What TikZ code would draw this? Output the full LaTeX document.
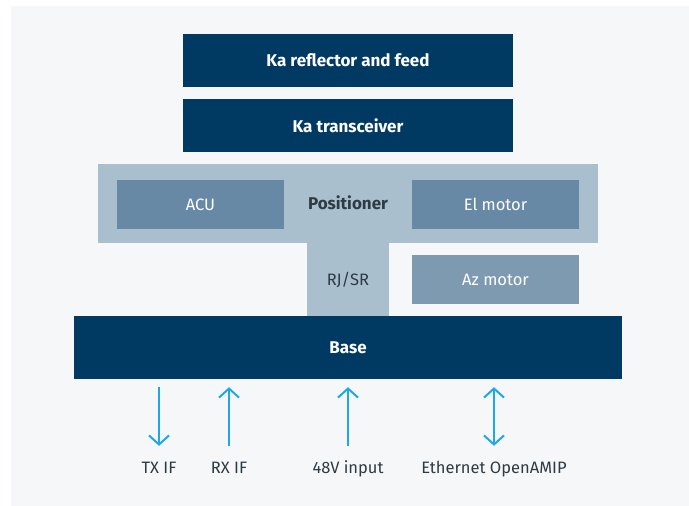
\documentclass[tikz,border=0pt]{standalone}
\usepackage{fontspec}
\setmainfont{Fira Sans}
\usetikzlibrary{arrows.meta}

\definecolor{navyblue}{HTML}{003A63}
\definecolor{posgrey}{HTML}{AABFCE}
\definecolor{unitblue}{HTML}{6889A6}
\definecolor{azblue}{HTML}{7E9AB0}
\definecolor{pagegrey}{HTML}{F5F7F9}
\definecolor{sigcyan}{HTML}{1EA8E6}
\definecolor{inkgrey}{HTML}{2D3B45}

\tikzset{
  navybox/.style={fill=navyblue, text=white, font=\fontsize{17}{19}\selectfont\bfseries, inner sep=0pt},
  posbox/.style={fill=posgrey, text=inkgrey, inner sep=0pt},
  unitbox/.style={fill=unitblue, text=white, font=\fontsize{16.5}{18}\selectfont, inner sep=0pt,
    minimum width=167pt, minimum height=49pt},
  iolabel/.style={text=inkgrey, font=\fontsize{16.5}{18}\selectfont, anchor=base, inner sep=2pt,
    text height=11pt, text depth=3pt},
  sigline/.style={draw=sigcyan, line width=2pt, shorten <=8pt, shorten >=14pt,
    arrows={-Straight Barb[length=9pt,width=20pt,line width=2pt]}},
}

\begin{document}
\begin{tikzpicture}[x=1pt, y=-1pt]
  \useasboundingbox (0,0) rectangle (689,506);
  \fill[pagegrey] (11,6) rectangle (689,506);

  % upper blocks
  \node[navybox, minimum width=330pt, minimum height=53pt] (reflector) at (348,60.5) {Ka reflector and feed};
  \node[navybox, minimum width=330pt, minimum height=53pt] (transceiver) at (348,125.5) {Ka transceiver};

  % positioner (T shape)
  \node[posbox, minimum width=82pt, minimum height=74pt, font=\fontsize{16.5}{18}\selectfont] (rjsr) at (348,279.5) {RJ/SR};
  \node[posbox, minimum width=500pt, minimum height=79pt] (positioner) at (348,203.5) {};
  \node[text=inkgrey, font=\fontsize{17}{19}\selectfont\bfseries] (postitle) at (348,203) {Positioner};
  \node[unitbox] (acu) at (200.5,204.5) {ACU};
  \node[unitbox] (elmotor) at (495.5,204.5) {El motor};
  \node[unitbox, fill=azblue] (azmotor) at (495.5,279.5) {Az motor};

  % base
  \node[navybox, minimum width=548pt, minimum height=63pt] (base) at (348,347.5) {Base};

  % interfaces
  \node[iolabel] (txif) at (159,473) {TX IF};
  \node[iolabel] (rxif) at (229,473) {RX IF};
  \node[iolabel] (power) at (348,473) {48V input};
  \node[iolabel] (ethernet) at (494,473) {Ethernet OpenAMIP};

  \draw[sigline] (base.south -| txif) -- (txif.north);
  \draw[sigline, arrows={Straight Barb[length=9pt,width=20pt,line width=2pt]-}] (base.south -| rxif) -- (rxif.north);
  \draw[sigline, arrows={Straight Barb[length=9pt,width=20pt,line width=2pt]-}] (base.south -| power) -- (power.north);
  \draw[sigline, arrows={Straight Barb[length=9pt,width=20pt,line width=2pt]-Straight Barb[length=9pt,width=20pt,line width=2pt]}] (base.south -| ethernet) -- (ethernet.north);
\end{tikzpicture}
\end{document}
